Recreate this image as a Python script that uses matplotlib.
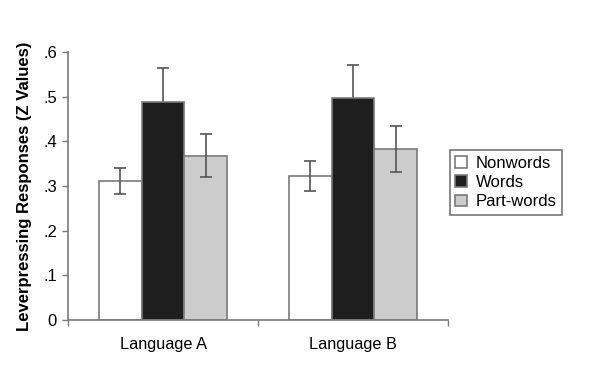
import numpy as np
import matplotlib
matplotlib.use("Agg")
import matplotlib.pyplot as plt

plt.rcParams['font.family'] = ['Liberation Sans', 'DejaVu Sans']

# data
languages = ['Language A', 'Language B']
conditions = ['Nonwords', 'Words', 'Part-words']
means = {
    'Nonwords':   [0.311, 0.322],
    'Words':      [0.488, 0.497],
    'Part-words': [0.368, 0.383],
}
errors = {
    'Nonwords':   [0.030, 0.034],
    'Words':      [0.076, 0.074],
    'Part-words': [0.048, 0.051],
}
colors = {'Nonwords': 'white', 'Words': '#1e1e1e', 'Part-words': '#cccccc'}
yticks = [0, 0.1, 0.2, 0.3, 0.4, 0.5, 0.6]
ytick_labels = ['0', '.1', '.2', '.3', '.4', '.5', '.6']

axcol = '#7a7a7a'
fig = plt.figure(figsize=(6, 3.67), dpi=100)
ax = fig.add_axes([68/600, 47/367, 380/600, 268/367])

centers = np.arange(len(languages)) + 0.5
w = 0.225
for i, c in enumerate(conditions):
    x = centers + (i - 1) * w
    ax.bar(x, means[c], width=w, color=colors[c], edgecolor=axcol, linewidth=1.2,
           label=c, zorder=2)
    # error bars behind the black bars, in front of the light ones
    ez = 1 if c == 'Words' else 3
    ax.errorbar(x, means[c], yerr=errors[c], fmt='none', ecolor='#555555',
                elinewidth=1.2, capsize=4, capthick=1.2, zorder=ez)

ax.set_xlim(0, 2)
ax.set_ylim(0, 0.6)
ax.set_yticks(yticks)
ax.set_yticklabels(ytick_labels, fontsize=12)
ax.set_xticks([0, 1, 2])
ax.set_xticklabels([])
ax.set_xticks(centers, minor=True)
ax.set_xticklabels(languages, minor=True, fontsize=11.7)
ax.tick_params(axis='x', which='minor', length=0, pad=12)
ax.tick_params(axis='both', which='major', color=axcol, length=4, width=1)
ax.tick_params(axis='y', pad=4)

for s in ['top', 'right']:
    ax.spines[s].set_visible(False)
for s in ['left', 'bottom']:
    ax.spines[s].set_color(axcol)
    ax.spines[s].set_linewidth(1.2)

ax.set_ylabel('Leverpressing Responses (Z Values)', fontsize=12, fontweight='bold',
              labelpad=8)

leg = ax.legend(loc='upper left', bbox_to_anchor=(1.0, 0.64), fontsize=12,
                handlelength=0.7, handleheight=0.7, handletextpad=0.5,
                borderpad=0.35, labelspacing=0.25, frameon=True, fancybox=False,
                borderaxespad=0.1)
leg.get_frame().set_edgecolor('#555555')
leg.get_frame().set_linewidth(1.2)

fig.savefig('out.png', dpi=100)
